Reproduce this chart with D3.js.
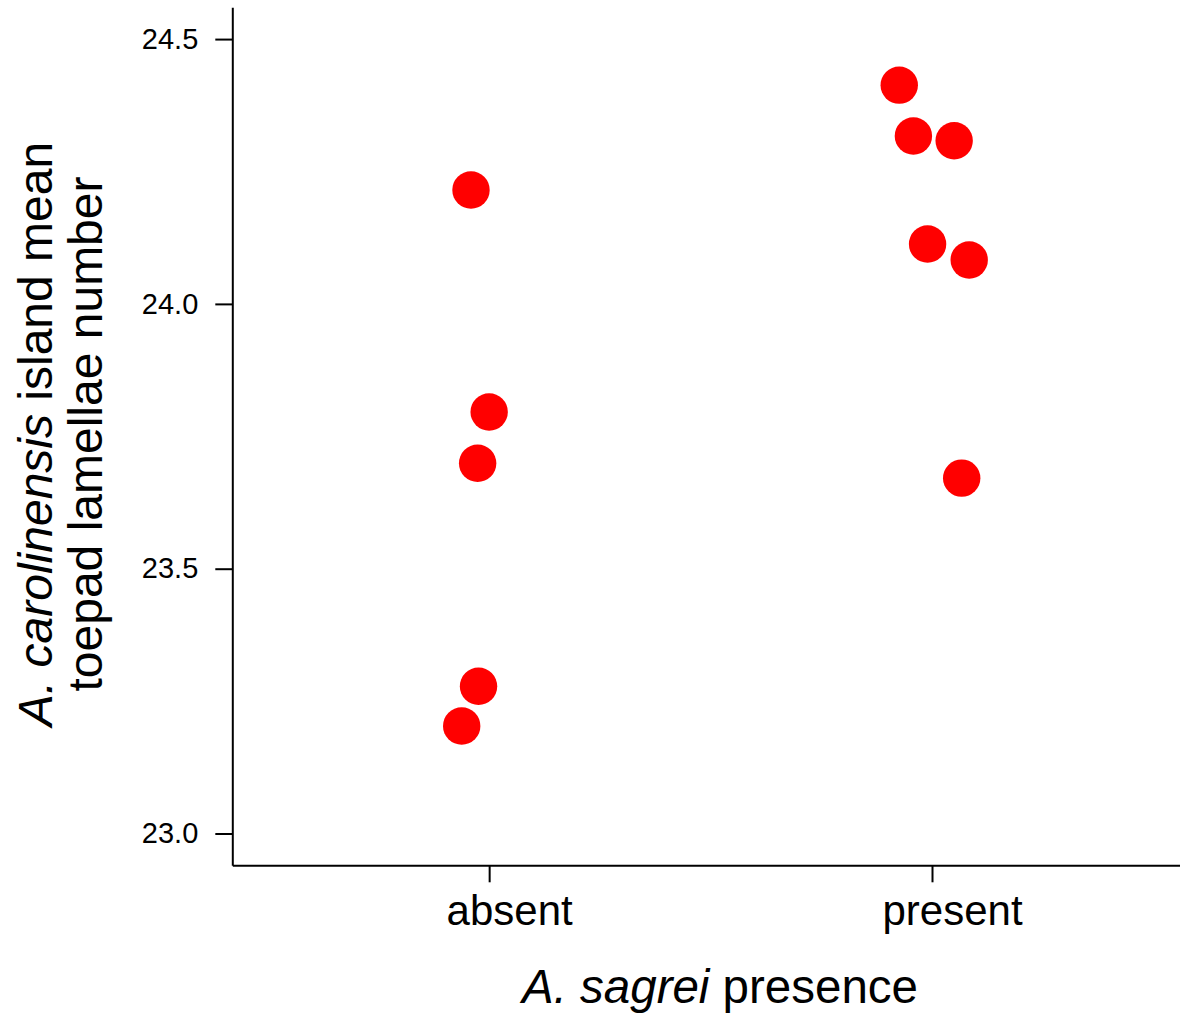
<!DOCTYPE html>
<html>
<head>
<meta charset="utf-8">
<script src="https://cdn.jsdelivr.net/npm/d3@7"></script>
<style>
  body { margin: 0; background: #fff; }
  svg { display: block; font-family: "Liberation Sans", Arial, sans-serif; }
</style>
</head>
<body>
<div id="grafica"></div>
<script>
// Datos
var categorias = ["absent", "present"];
var grupo = ["absent", "absent", "absent", "absent", "absent",
             "present", "present", "present", "present", "present", "present"];
var lamelas = [24.215, 23.796, 23.699, 23.278, 23.203,
               24.413, 24.317, 24.308, 24.113, 24.083, 23.671];
// desplazamiento horizontal (jitter) en unidades de categoria
var jitter = [-0.041, 0.000, -0.026, -0.024, -0.062,
              -0.074, -0.042, 0.050, -0.010, 0.084, 0.067];
var ticksY = [23.0, 23.5, 24.0, 24.5];

var ancho = 1180, alto = 1013;

var svg = d3.select("#grafica")
  .append("svg")
  .attr("width", ancho)
  .attr("height", alto);

// escala x: categoria 1 = absent, 2 = present
var x = d3.scaleLinear().domain([0.42, 2.56]).range([232.3, 1180]);
var y = d3.scaleLinear().domain([22.94, 24.56]).range([865.3, 7.3]);

// eje y
var ejeY = svg.append("g")
  .attr("transform", "translate(232.3,0)")
  .call(d3.axisLeft(y).tickValues(ticksY).tickFormat(d3.format(".1f"))
    .tickSize(17).tickSizeOuter(0).tickPadding(17));
ejeY.select(".domain").attr("stroke-width", 2);
ejeY.selectAll(".tick line").attr("stroke-width", 2);
ejeY.selectAll(".tick text").attr("font-size", 29).attr("fill", "#000");

// eje x
var ejeX = svg.append("g")
  .attr("transform", "translate(0,865.3)")
  .call(d3.axisBottom(x).tickValues([1, 2]).tickFormat(function(d) { return categorias[d - 1]; })
    .tickSize(17).tickSizeOuter(0));
ejeX.select(".domain").attr("stroke-width", 2);
ejeX.selectAll(".tick line").attr("stroke-width", 2);
ejeX.selectAll(".tick text")
  .attr("font-size", 42)
  .attr("fill", "#000")
  .attr("dy", null)
  .attr("y", 60)
  .attr("dx", 20);

svg.selectAll("text").attr("font-family", "'Liberation Sans', Arial, sans-serif");

// puntos
svg.append("g").selectAll("circle")
  .data(lamelas)
  .join("circle")
  .attr("cx", function(d, i) { return x(categorias.indexOf(grupo[i]) + 1 + jitter[i]); })
  .attr("cy", function(d) { return y(d); })
  .attr("r", 18.7)
  .attr("fill", "#ff0000");

// titulo del eje x
var tx = svg.append("text")
  .attr("x", 720)
  .attr("y", 1003)
  .attr("text-anchor", "middle")
  .attr("font-size", 47.5);
tx.append("tspan").attr("font-style", "italic").text("A. sagrei");
tx.append("tspan").text(" presence");

// titulo del eje y (dos lineas)
var ty = svg.append("g").attr("transform", "translate(52,434) rotate(-90)");
var l1 = ty.append("text")
  .attr("text-anchor", "middle")
  .attr("font-size", 48);
l1.append("tspan").attr("font-style", "italic").text("A. carolinensis");
l1.append("tspan").text(" island mean");
ty.append("text")
  .attr("y", 50)
  .attr("text-anchor", "middle")
  .attr("font-size", 48)
  .text("toepad lamellae number");
</script>
</body>
</html>
